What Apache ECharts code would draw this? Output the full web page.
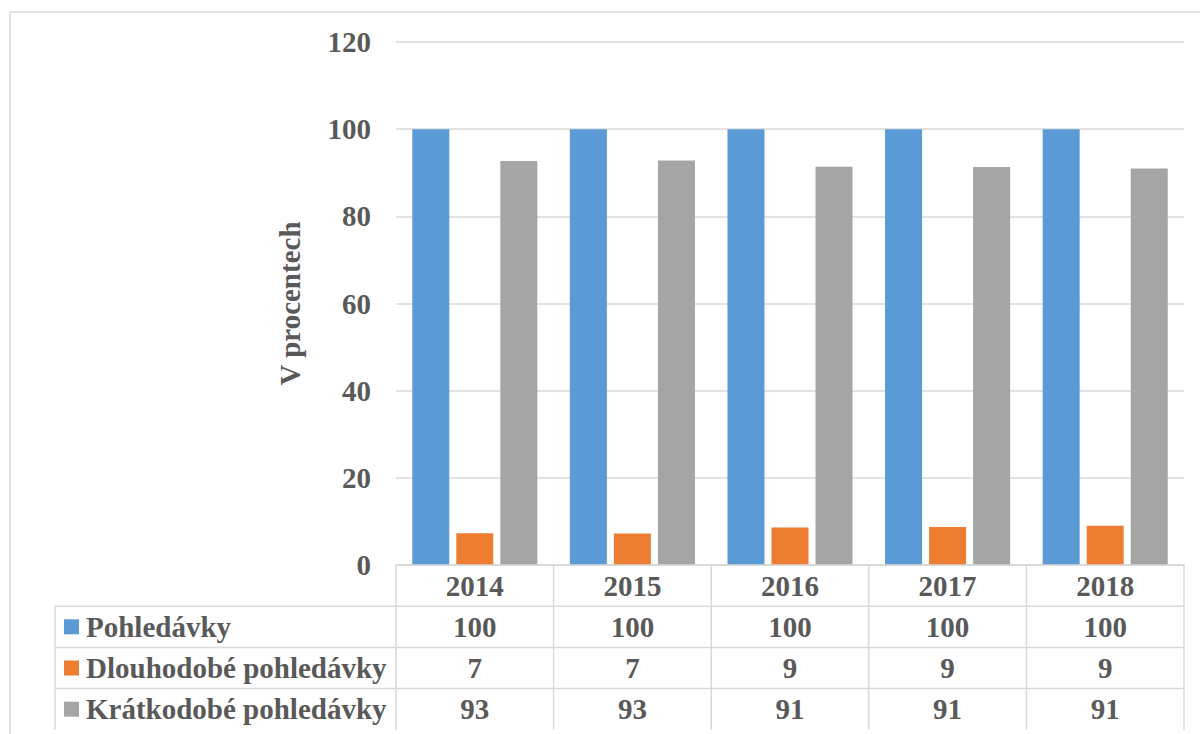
<!DOCTYPE html>
<html>
<head>
<meta charset="utf-8">
<script src="https://cdn.jsdelivr.net/npm/echarts@6/dist/echarts.min.js"></script>
<style>
  html, body { margin: 0; padding: 0; background: #fff; }
  #chart { width: 1200px; height: 734px; }
</style>
</head>
<body>
<div id="chart"></div>
<script>
const years = ["2014", "2015", "2016", "2017", "2018"];
const seriesNames = ["Pohledávky", "Dlouhodobé pohledávky", "Krátkodobé pohledávky"];
const pohledavky = [100, 100, 100, 100, 100];
const dlouhodobe = [7.3, 7.2, 8.6, 8.7, 9.0];
const kratkodobe = [92.7, 92.8, 91.4, 91.3, 91.0];
const colors = ["#5b9bd5", "#ed7d31", "#a5a5a5"];

const FONT = '"Liberation Serif", "Times New Roman", serif';
const TXT = "#595959";
const LINE = "#d9d9d9";
const FS = 29;

const chart = echarts.init(document.getElementById("chart"), null, { renderer: "svg" });

const option = {
  animation: false,
  grid: { left: 396, right: 16, top: 42, bottom: 169 },
  xAxis: {
    type: "category",
    data: years,
    axisLabel: { show: false },
    axisTick: { show: false },
    axisLine: { lineStyle: { color: LINE, width: 1.5 } },
  },
  yAxis: {
    type: "value",
    min: 0,
    max: 120,
    interval: 20,
    name: "V procentech",
    nameLocation: "middle",
    nameGap: 92,
    nameTextStyle: { color: TXT, fontFamily: FONT, fontWeight: "bold", fontSize: FS },
    axisLabel: { color: TXT, fontFamily: FONT, fontWeight: "bold", fontSize: FS, margin: 25 },
    axisLine: { show: false },
    axisTick: { show: false },
    splitLine: { lineStyle: { color: LINE, width: 1.5 } },
  },
  series: [pohledavky, dlouhodobe, kratkodobe].map((d, i) => ({
    name: seriesNames[i],
    type: "bar",
    data: d,
    barWidth: 37,
    barGap: "19%",
    itemStyle: { color: colors[i] },
  })),
};
chart.setOption(option);

// data table under the plot (Excel-like)
function drawTable() {
  const g = [];
  const c0 = chart.convertToPixel({ xAxisIndex: 0 }, 0);
  const c1 = chart.convertToPixel({ xAxisIndex: 0 }, 1);
  const band = c1 - c0;
  const left = c0 - band / 2;
  const right = left + band * years.length;
  const top = chart.convertToPixel({ yAxisIndex: 0 }, 0);
  const rowH = 41.2;
  const legLeft = 55;
  const rows = [pohledavky, dlouhodobe, kratkodobe];
  const line = (x1, y1, x2, y2) => ({
    type: "line",
    shape: { x1, y1, x2, y2 },
    style: { stroke: LINE, lineWidth: 1.5 },
    z: 10,
  });
  const text = (x, y, str, align) => ({
    type: "text",
    x, y,
    style: {
      text: str, fill: TXT, font: "bold " + FS + "px " + FONT,
      align: align || "center", verticalAlign: "middle",
    },
    z: 11,
  });

  // outer chart border
  g.push({ type: "rect", shape: { x: 10, y: 12, width: 1200, height: 800 },
    style: { fill: null, stroke: LINE, lineWidth: 1.5 }, z: 1 });

  // horizontal lines
  g.push(line(left, top, right, top));
  for (let r = 1; r <= rows.length; r++) {
    g.push(line(legLeft, top + r * rowH, right, top + r * rowH));
  }
  // vertical lines
  g.push(line(legLeft, top + rowH, legLeft, top + (rows.length + 1) * rowH));
  for (let k = 0; k <= years.length; k++) {
    g.push(line(left + k * band, top, left + k * band, top + (rows.length + 1) * rowH));
  }
  // header
  years.forEach((y, k) => g.push(text(left + (k + 0.5) * band, top + rowH / 2, y)));
  // rows
  rows.forEach((vals, r) => {
    const cy = top + (r + 1.5) * rowH;
    g.push({ type: "rect", shape: { x: 64, y: cy - 7.5, width: 15, height: 15 },
      style: { fill: colors[r] }, z: 11 });
    g.push(text(86, cy, seriesNames[r], "left"));
    vals.forEach((v, k) => g.push(text(left + (k + 0.5) * band, cy, String(Math.round(v)))));
  });
  chart.setOption({ graphic: g });
}
drawTable();
</script>
</body>
</html>
